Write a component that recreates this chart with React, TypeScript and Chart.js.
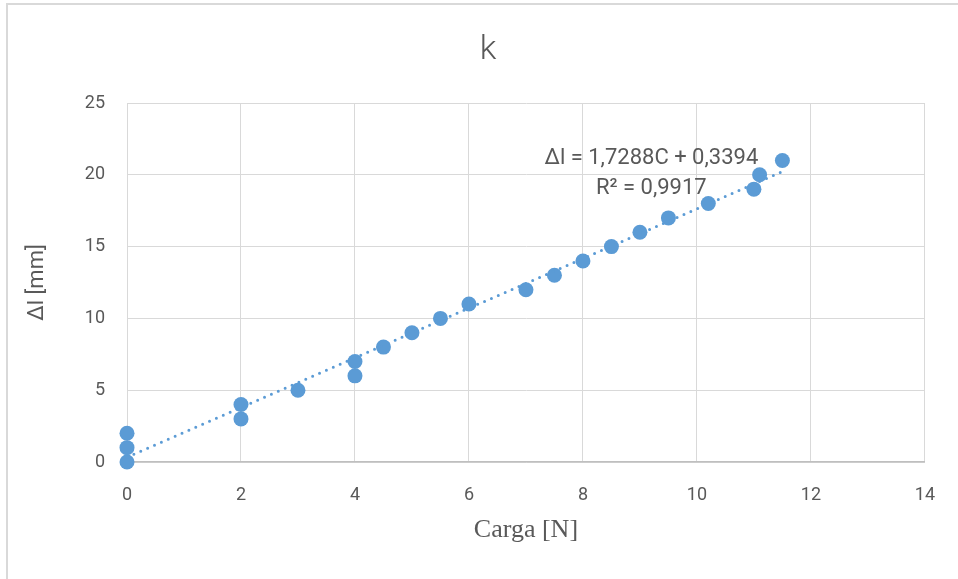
import React, { useEffect, useRef } from "react";
import { Chart, registerables } from "chart.js";

Chart.register(...registerables);

// Data
const cargaN = [0, 0, 0, 2, 2, 3, 4, 4, 4.5, 5, 5.5, 6, 7, 7.5, 8, 8.5, 9, 9.5, 10.2, 11, 11.1, 11.5];
const deltaMm = [0, 1, 2, 3, 4, 5, 6, 7, 8, 9, 10, 11, 12, 13, 14, 15, 16, 17, 18, 19, 20, 21];
const trendSlope = 1.7288;
const trendIntercept = 0.3394;
const trendRangeX = [0, 11.5];
const equationText = "\u0394l = 1,7288C + 0,3394";
const r2Text = "R\u00B2 = 0,9917";
const equationAnchor = { x: 9.2, y: 21.15 };
const r2Anchor = { x: 9.2, y: 19.05 };
const chartTitle = "k";
const xTitle = "Carga [N]";
const yTitle = "\u0394l [mm]";

const TEXT = "#595959";
const BLUE = "#5b9bd5";
const GRID = "#d9d9d9";

const overlayPlugin = {
  id: "overlayText",
  afterDatasetsDraw(chart: any) {
    const { ctx, scales } = chart;
    const xs = scales.x;
    const ys = scales.y;
    ctx.save();
    ctx.fillStyle = TEXT;
    ctx.textAlign = "center";
    ctx.textBaseline = "middle";
    ctx.font = "22px Roboto";
    ctx.fillText(equationText, xs.getPixelForValue(equationAnchor.x), ys.getPixelForValue(equationAnchor.y));
    ctx.fillText(r2Text, xs.getPixelForValue(r2Anchor.x), ys.getPixelForValue(r2Anchor.y));
    // chart title
    ctx.font = "300 34px Roboto";
    ctx.textBaseline = "alphabetic";
    ctx.fillText(chartTitle, 488, 59);
    ctx.restore();
  },
};

export default function App() {
  const ref = useRef<HTMLCanvasElement | null>(null);

  useEffect(() => {
    if (!ref.current) return;
    const points = cargaN.map((x, i) => ({ x, y: deltaMm[i] }));
    const trend = trendRangeX.map((x) => ({ x, y: trendSlope * x + trendIntercept }));
    const chart = new Chart(ref.current, {
      type: "scatter",
      data: {
        datasets: [
          {
            label: "Data",
            data: points,
            backgroundColor: BLUE,
            borderColor: BLUE,
            borderWidth: 0,
            pointRadius: 7.5,
            clip: false,
            order: 2,
          } as any,
          {
            label: "Trend",
            data: trend,
            showLine: true,
            borderColor: BLUE,
            borderWidth: 3,
            borderDash: [0, 7.5],
            borderCapStyle: "round",
            pointRadius: 0,
            fill: false,
            clip: false,
            order: 1,
          } as any,
        ],
      },
      options: {
        responsive: false,
        animation: false,
        layout: { padding: { top: 103, right: 32, bottom: 0, left: 0 } },
        plugins: {
          legend: { display: false },
          title: { display: false },
          tooltip: { enabled: false },
        },
        scales: {
          x: {
            type: "linear",
            min: 0,
            max: 14,
            ticks: {
              stepSize: 2,
              color: TEXT,
              font: { family: "Roboto", size: 18 },
              padding: 23,
            },
            grid: { color: GRID, lineWidth: 1, drawTicks: false },
            border: { color: "#bfbfbf", width: 1.5 },
            title: {
              display: true,
              text: xTitle,
              color: TEXT,
              font: { family: "Liberation Serif", size: 26 },
              padding: { top: 0, bottom: 33 },
            },
            afterFit: (scale: any) => {
              scale.height = 117;
            },
          },
          y: {
            type: "linear",
            min: 0,
            max: 25,
            ticks: {
              stepSize: 5,
              color: TEXT,
              font: { family: "Roboto", size: 18 },
              padding: 22,
            },
            grid: { color: GRID, lineWidth: 1, drawTicks: false },
            border: { color: GRID, width: 1 },
            title: {
              display: true,
              text: yTitle,
              color: TEXT,
              font: { family: "Roboto", size: 22 },
              padding: { top: 24, bottom: 0 },
            },
            afterFit: (scale: any) => {
              scale.width = 127;
            },
          },
        },
      },
      plugins: [overlayPlugin],
    });
    return () => chart.destroy();
  }, []);

  return (
    <div style={{ position: "fixed", left: 0, top: 0, width: 958, height: 579, background: "#ffffff", overflow: "hidden" }}>
      <div
        style={{
          position: "absolute",
          left: 6,
          top: 3,
          width: 980,
          height: 600,
          borderLeft: "2px solid #d9d9d9",
          borderTop: "2px solid #d9d9d9",
        }}
      />
      <canvas ref={ref} width={958} height={579} style={{ position: "absolute", left: 0, top: 0, width: 958, height: 579 }} />
    </div>
  );
}
